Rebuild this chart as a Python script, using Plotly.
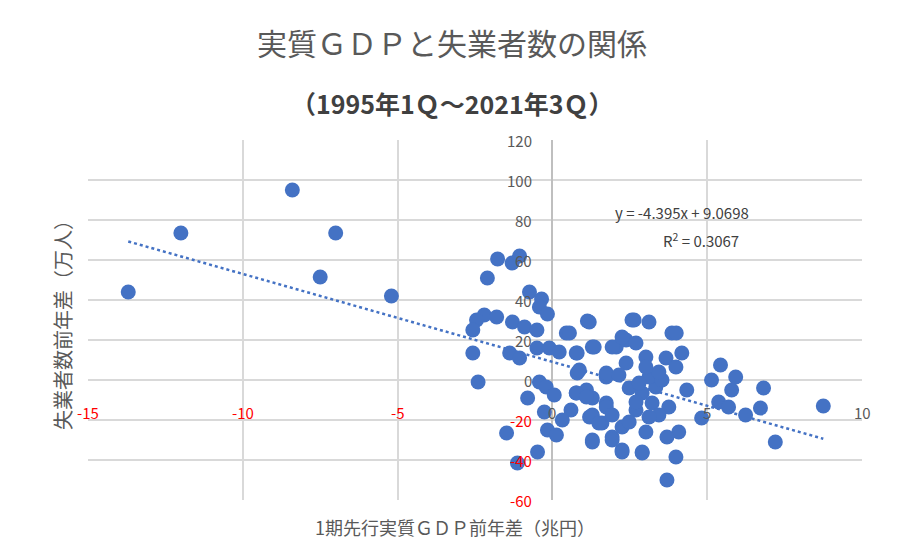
import plotly.graph_objects as go

# 1期先行実質GDP前年差（兆円）, 失業者数前年差（万人）
gdp_diff = [
    -13.7, -12.0, -8.4, -7.5, -7.0, -5.2,
    -1.77, -1.3, -1.06, -2.1, -0.74, -0.35, -0.42, -0.16, -2.2, -1.8, -2.45, -2.57,
    -1.29, -0.9, -0.5, 0.45, 1.13, -2.57, -1.38, -1.06, -0.5, -0.1, 0.22, 0.77, 1.29,
    -2.4, 0.8, -0.42, -0.2, 0.06, -0.8, 0.77, 1.1, 1.29, -0.26, 0.6, -0.16, 0.13, 0.32,
    -1.48, -0.48, -1.13, 1.29, 1.2, 1.6, 1.74, 2.25, 2.9, 1.93, 2.57, 1.74, 2.06, 2.38,
    1.19, 2.64, 3.12, 3.86, 4.0, 0.55, 1.35, 1.93, 2.25, 2.7, 4.18, 0.8, 0.87, 1.74,
    2.38, 3.02, 3.67, 3.99, 5.43, 5.14, 5.92, 6.82, 5.79, 4.34, 3.34, 2.48, 0.77, 1.1,
    5.37, 5.69, 6.72, 6.24, 4.82, 7.2, 8.75, 2.9, 3.22, 3.76, 1.74, 1.29, 1.93, 2.7,
    3.44, 1.5, 2.25, 3.02, 4.08, 3.7, 1.29, 1.93, 2.25, 2.9, 3.99, 3.7, 3.12, 3.54,
    2.8, 2.15, 3.44, 3.02, 2.7, 3.12, 2.48,
]
unemp_diff = [
    44, 73.5, 95, 51.5, 73.5, 42,
    60.5, 58.5, 62, 51, 44, 40.5, 36.5, 33, 32.5, 31.5, 30, 25,
    29, 26.5, 25, 23.5, 29.5, 13.5, 13.5, 11, 16, 16, 14, 13.5, 16.5,
    -1, 3.5, -1, -3.5, -7.5, -9, -6.5, -5, -9, -16, -15, -25, -27.5, -20,
    -26.5, -36, -41.5, -30, -18.5, -21.5, -11.5, -35, -36, -28.5, 30, 1.5, 16.5, 20,
    29, 30, 29, 23.5, 23.5, 23.5, 16.5, 16.5, 21.5, 18.5, 13.5, 13.5, 5, 3.5,
    8.5, 11.5, 11, 6.5, 7.5, 0, 1.5, -4, -5, -5, -3.5, -4, -6.5, -8.5,
    -11, -13.5, -14, -17.5, -19, -31, -13, -6.5, -11.5, -13.5, -13.5, -17.5, -17.5, -15,
    -17.5, -21.5, -23.5, -26, -26, -28.5, -31, -30, -36, -36.5, -38.5, -50, 1.5, 0,
    -1.5, 2.5, 4, 6.5, -11, -18.5, -21,
]

# 近似曲線 y = -4.395x + 9.0698
slope, intercept = -4.395, 9.0698
trend_x = [min(gdp_diff), max(gdp_diff)]
trend_y = [slope * v + intercept for v in trend_x]

x_ticks = [-15, -10, -5, 0, 5, 10]
y_ticks = [120, 100, 80, 60, 40, 20, 0, -20, -40, -60]

# page has an 8px body margin, so the figure is a bit smaller than the window
OFF = 8
W, H = 905 - 2 * OFF, 557 - 2 * OFF
L, R, T, B = 88 - OFF, 43 - OFF, 140 - OFF, 57 - OFF


def px(xp, yp):
    # window pixel -> paper fraction
    return ((xp - OFF - L) / (W - L - R), (H - B - (yp - OFF)) / (H - T - B))


fig = go.Figure()
fig.add_trace(go.Scatter(x=trend_x, y=trend_y, mode="lines",
                         line=dict(color="#4472C4", width=2.5, dash="dot"), hoverinfo="skip"))
fig.add_trace(go.Scatter(x=gdp_diff, y=unemp_diff, mode="markers",
                         marker=dict(color="#4472C4", size=15)))

ann = []
for t in x_ticks:
    ann.append(dict(x=t, y=-16, xref="x", yref="y", text=str(t), showarrow=False,
                    font=dict(size=15, color="red" if t < 0 else "#595959")))
for t in y_ticks:
    ann.append(dict(x=-0.6, y=t, xref="x", yref="y", text=str(t), showarrow=False, xanchor="right",
                    font=dict(size=15, color="red" if t < 0 else "#595959")))
ann += [
    dict(x=4.2, y=84, xref="x", yref="y", text="y = -4.395x + 9.0698", showarrow=False,
         font=dict(size=15, color="#404040")),
    dict(x=4.8, y=70, xref="x", yref="y", text="R<sup>2</sup> = 0.3067", showarrow=False,
         font=dict(size=15, color="#404040")),
]
texts = [
    (452, 42, "実質ＧＤＰと失業者数の関係", 30, "#595959", 0),
    (452, 103, "<b>（1995年1Ｑ～2021年3Ｑ）</b>", 25, "#404040", 0),
    (455, 527, "1期先行実質ＧＤＰ前年差（兆円）", 18, "#595959", 0),
    (62, 320, "失業者数前年差（万人）", 20, "#595959", -90),
]
for xp, yp, txt, sz, col, ang in texts:
    fx, fy = px(xp, yp)
    ann.append(dict(x=fx, y=fy, xref="paper", yref="paper", text=txt, showarrow=False,
                    xanchor="center", yanchor="middle", textangle=ang,
                    font=dict(size=sz, color=col)))

fig.update_layout(
    width=W, height=H, margin=dict(l=L, r=R, t=T, b=B),
    paper_bgcolor="white", plot_bgcolor="white", showlegend=False,
    font=dict(family="Noto Sans CJK JP"), annotations=ann,
)
fig.update_xaxes(range=[-15, 10], tickvals=x_ticks, showticklabels=False, showgrid=True,
                 gridcolor="#D9D9D9", gridwidth=1.5, zeroline=True, zerolinecolor="#BFBFBF",
                 zerolinewidth=2, showline=False)
fig.update_yaxes(range=[-60, 120], tickvals=y_ticks, showticklabels=False, showgrid=True,
                 gridcolor="#D9D9D9", gridwidth=1.5, zeroline=False, showline=False)

fig.write_html("out.html")
